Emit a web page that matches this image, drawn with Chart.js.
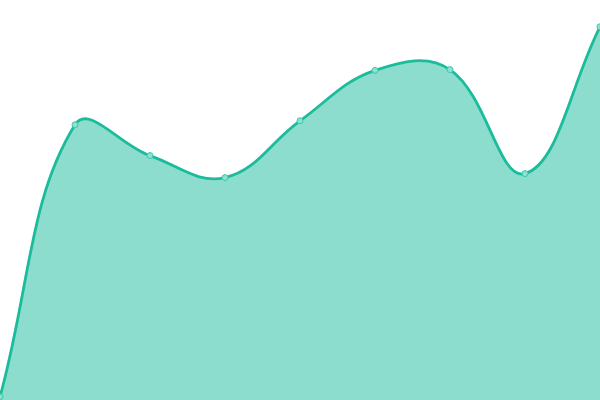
<!DOCTYPE html>
<html>
<head>
<meta charset="utf-8">
<script src="https://cdn.jsdelivr.net/npm/chart.js@4"></script>
<style>
  html, body { margin: 0; padding: 0; background: #fff; }
  #wrap { width: 600px; height: 400px; }
</style>
</head>
<body>
<div id="wrap"><canvas id="areaChart"></canvas></div>
<script>
const labels = ['1', '2', '3', '4', '5', '6', '7', '8', '9'];
const values = [0.8, 68.8, 61.1, 55.6, 69.8, 82.4, 82.6, 56.6, 93.3];

const ctx = document.getElementById('areaChart').getContext('2d');
new Chart(ctx, {
  type: 'line',
  data: {
    labels: labels,
    datasets: [
      {
        data: values,
        borderColor: '#1abc9c',
        backgroundColor: 'rgba(26, 188, 156, 0.5)',
        borderWidth: 2.8,
        fill: 'origin',
        tension: 0.4,
        pointRadius: 3,
        pointBorderWidth: 1,
        pointBackgroundColor: '#8ee0d0',
        pointBorderColor: '#3cc8ab'
      }
    ]
  },
  options: {
    responsive: true,
    maintainAspectRatio: false,
    animation: false,
    layout: { padding: 0, autoPadding: false },
    plugins: {
      legend: { display: false },
      tooltip: { enabled: false }
    },
    scales: {
      x: { display: false },
      y: { display: false, min: 0, max: 100 }
    }
  }
});
</script>
</body>
</html>
